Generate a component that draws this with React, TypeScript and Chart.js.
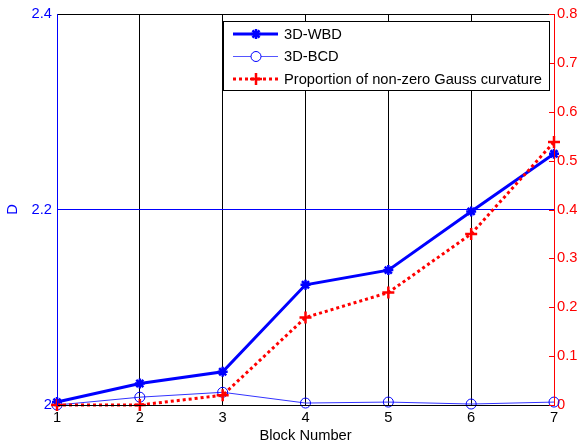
import React, { useEffect, useRef } from 'react';
import { Chart, registerables } from 'chart.js';
Chart.register(...registerables);

const blockNumbers = [1, 2, 3, 4, 5, 6, 7];
const wbdValues = [2.003, 2.022, 2.034, 2.123, 2.138, 2.198, 2.257];
const bcdValues = [2.0, 2.008, 2.013, 2.002, 2.003, 2.001, 2.003];
const gaussValues = [0, 0, 0.02, 0.179, 0.23, 0.35, 0.538];
const legendLabels = ['3D-WBD', '3D-BCD', 'Proportion of non-zero Gauss curvature'];
const xTitle = 'Block Number';
const yTitle = 'D';

const FONT = '"Liberation Sans", Arial, sans-serif';
const FS = 14.7;
const BLUE = '#0000ff';
const RED = '#ff0000';

const fmt = (v: any) => String(Number(Number(v).toFixed(2)));

const framePlugin = {
  id: 'frame',
  afterDraw(chart: any) {
    const { ctx, chartArea } = chart;
    const { left, right, top, bottom } = chartArea;
    const yR = chart.scales.yR;
    ctx.save();
    ctx.lineWidth = 1;
    ctx.strokeStyle = '#000';
    ctx.beginPath();
    ctx.moveTo(left, top + 0.5);
    ctx.lineTo(right, top + 0.5);
    ctx.moveTo(left, bottom + 0.5);
    ctx.lineTo(right, bottom + 0.5);
    ctx.stroke();
    ctx.strokeStyle = BLUE;
    ctx.beginPath();
    ctx.moveTo(left + 0.5, top);
    ctx.lineTo(left + 0.5, bottom + 1);
    ctx.stroke();
    ctx.strokeStyle = RED;
    ctx.beginPath();
    ctx.moveTo(right + 0.5, top);
    ctx.lineTo(right + 0.5, bottom + 1);
    yR.ticks.forEach((t: any) => {
      const y = Math.round(yR.getPixelForValue(t.value)) + 0.5;
      ctx.moveTo(right, y);
      ctx.lineTo(right - 5, y);
    });
    ctx.stroke();

    // legend
    const bx = 223, by = 21, bw = 326, bh = 69;
    ctx.fillStyle = '#fff';
    ctx.fillRect(bx, by, bw, bh);
    ctx.strokeStyle = '#000';
    ctx.strokeRect(bx + 0.5, by + 0.5, bw, bh);
    const rows = [34, 56.5, 79];
    const x0 = 233, x1 = 278, mx = 256;
    ctx.font = `${FS}px ${FONT}`;
    ctx.textBaseline = 'middle';
    ctx.textAlign = 'left';
    legendLabels.forEach((lab, i) => {
      const y = rows[i];
      ctx.save();
      if (i === 0) {
        ctx.strokeStyle = BLUE; ctx.lineWidth = 3;
        ctx.beginPath(); ctx.moveTo(x0, y); ctx.lineTo(x1, y); ctx.stroke();
        ctx.lineWidth = 2.5;
        ctx.beginPath();
        for (let k = 0; k < 4; k++) {
          const a = (k * Math.PI) / 4;
          ctx.moveTo(mx - 5 * Math.cos(a), y - 5 * Math.sin(a));
          ctx.lineTo(mx + 5 * Math.cos(a), y + 5 * Math.sin(a));
        }
        ctx.stroke();
      } else if (i === 1) {
        ctx.strokeStyle = '#5555ff'; ctx.lineWidth = 1;
        ctx.beginPath(); ctx.moveTo(x0, y); ctx.lineTo(x1, y); ctx.stroke();
        ctx.strokeStyle = BLUE;
        ctx.fillStyle = '#fff';
        ctx.beginPath(); ctx.arc(mx, y, 5, 0, Math.PI * 2); ctx.fill(); ctx.stroke();
      } else {
        ctx.strokeStyle = RED; ctx.lineWidth = 3; ctx.setLineDash([3, 3]);
        ctx.beginPath(); ctx.moveTo(x0, y); ctx.lineTo(x1, y); ctx.stroke();
        ctx.setLineDash([]); ctx.lineWidth = 2.5;
        ctx.beginPath();
        ctx.moveTo(mx - 6, y); ctx.lineTo(mx + 6, y);
        ctx.moveTo(mx, y - 6); ctx.lineTo(mx, y + 6);
        ctx.stroke();
      }
      ctx.restore();
      ctx.fillStyle = '#000';
      ctx.fillText(lab, 284, y + 0.5);
    });
    ctx.restore();
  },
};

export default function App() {
  const ref = useRef<HTMLCanvasElement>(null);
  useEffect(() => {
    document.body.style.margin = '0';
    const pts = (vals: number[]) => vals.map((v, i) => ({ x: blockNumbers[i], y: v }));
    const chart = new Chart(ref.current!, {
      type: 'line',
      data: {
        datasets: [
          {
            label: legendLabels[2],
            data: pts(gaussValues),
            yAxisID: 'yR',
            borderColor: RED,
            backgroundColor: RED,
            borderWidth: 3,
            borderDash: [3, 3],
            pointStyle: 'cross',
            pointRadius: 6,
            pointBorderWidth: 2.5,
            clip: false,
          } as any,
          {
            label: legendLabels[0],
            data: pts(wbdValues),
            yAxisID: 'y',
            borderColor: BLUE,
            backgroundColor: BLUE,
            borderWidth: 3,
            pointStyle: 'star',
            pointRadius: 5,
            pointBorderWidth: 2.5,
            clip: false,
          } as any,
          {
            label: legendLabels[1],
            data: pts(bcdValues),
            yAxisID: 'y',
            borderColor: '#3333ff',
            backgroundColor: 'rgba(0,0,0,0)',
            pointBorderColor: BLUE,
            borderWidth: 1,
            pointStyle: 'circle',
            pointRadius: 5,
            pointBorderWidth: 1,
            clip: false,
          } as any,
        ],
      },
      options: {
        animation: false,
        responsive: false,
        layout: { padding: { top: 14, left: 0, right: 0, bottom: 0 } },
        plugins: { legend: { display: false }, tooltip: { enabled: false } },
        scales: {
          x: {
            type: 'linear',
            min: 1,
            max: 7,
            border: { display: false },
            grid: { color: '#000', lineWidth: 1, drawTicks: false },
            ticks: { stepSize: 1, color: '#000', padding: 4, font: { family: FONT, size: FS }, callback: fmt },
            title: { display: true, text: xTitle, color: '#000', padding: { top: 0, bottom: 0 }, font: { family: FONT, size: FS } },
            afterFit: (s: any) => { s.height = 40; },
          },
          y: {
            position: 'left',
            min: 2,
            max: 2.4,
            border: { display: false },
            grid: { color: BLUE, lineWidth: 1, drawTicks: false },
            ticks: { stepSize: 0.2, color: BLUE, padding: 5, font: { family: FONT, size: FS }, callback: fmt },
            title: { display: true, text: yTitle, color: BLUE, padding: { top: 4, bottom: 0 }, font: { family: FONT, size: FS } },
            afterFit: (s: any) => { s.width = 57; },
          },
          yR: {
            position: 'right',
            min: 0,
            max: 0.8,
            border: { display: false },
            grid: { display: false, drawTicks: false },
            ticks: { stepSize: 0.1, color: RED, padding: 3, font: { family: FONT, size: FS }, callback: fmt },
            afterFit: (s: any) => { s.width = 26; },
          },
        },
      } as any,
      plugins: [framePlugin],
    });
    return () => chart.destroy();
  }, []);
  return (
    <div style={{ position: 'relative', width: 580, height: 445 }}>
      <canvas ref={ref} width={580} height={445} style={{ display: 'block' }} />
    </div>
  );
}
